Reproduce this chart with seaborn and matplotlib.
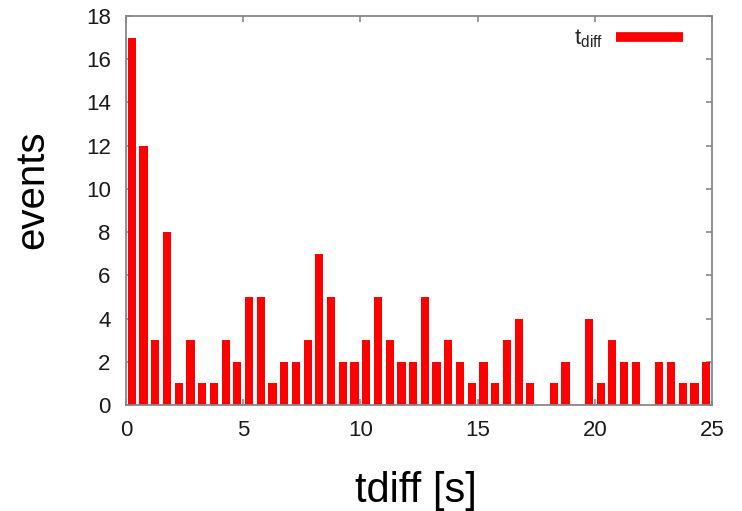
import numpy as np
import pandas as pd
import matplotlib
matplotlib.use("Agg")
import matplotlib.pyplot as plt
from matplotlib.lines import Line2D
import seaborn as sns

# Histogram of time differences: 0.5 s bins from 0 to 25 s
bin_width = 0.5
t_range = (0, 25)
bin_centers = np.arange(t_range[0] + bin_width / 2, t_range[1], bin_width)
events = [17, 12, 3, 8, 1, 3, 1, 1, 3, 2,
          5, 5, 1, 2, 2, 3, 7, 5, 2, 2,
          3, 5, 3, 2, 2, 5, 2, 3, 2, 1,
          2, 1, 3, 4, 1, 0, 1, 2, 0, 4,
          1, 3, 2, 2, 0, 2, 2, 1, 1, 2]
x_ticks = [0, 5, 10, 15, 20, 25]
y_ticks = [0, 2, 4, 6, 8, 10, 12, 14, 16, 18]
series_label = r"t$_{\mathrm{diff}}$"

df = pd.DataFrame({"tdiff": bin_centers, "events": events})

sns.set_theme(style="white")
plt.rcParams["font.family"] = ["Liberation Sans", "DejaVu Sans"]
plt.rcParams["mathtext.fontset"] = "custom"
plt.rcParams["mathtext.rm"] = "Liberation Sans"
plt.rcParams["mathtext.default"] = "regular"

fig = plt.figure(figsize=(7.42, 5.11), dpi=100)
ax = fig.add_axes([126 / 742, 1 - 405 / 511, 586 / 742, 389 / 511])

red = "#ff0000"
sns.histplot(data=df, x="tdiff", weights="events", binwidth=bin_width,
             binrange=t_range, shrink=0.7, color=red, alpha=1,
             edgecolor="none", linewidth=0, ax=ax)

ax.set_xlim(*t_range)
ax.set_ylim(0, 18)
ax.set_xticks(x_ticks)
ax.set_yticks(y_ticks)

frame = "#888888"
for sp in ax.spines.values():
    sp.set_visible(True)
    sp.set_color(frame)
    sp.set_linewidth(1.3)

ax.tick_params(axis="both", which="both", direction="in", length=4.5,
               width=1.2, color=frame, labelsize=16, labelcolor="#1a1a1a",
               top=True, right=True, bottom=True, left=True)
ax.tick_params(axis="y", pad=11)
ax.tick_params(axis="x", pad=11)

ax.set_xlabel("tdiff [s]", fontsize=30, color="#000000")
ax.set_ylabel("events", fontsize=29, color="#000000")
ax.xaxis.set_label_coords(0.495, -0.17)
ax.yaxis.set_label_coords(-0.128, 0.553)

handle = Line2D([], [], color=red, linewidth=7, solid_capstyle="butt")
ax.legend([handle], [series_label], loc="upper right", frameon=False,
          markerfirst=False, handlelength=3.0, handletextpad=0.6,
          fontsize=16, bbox_to_anchor=(0.973, 1.005), borderaxespad=0.2)

fig.savefig("out.png", dpi=100, facecolor="white")
